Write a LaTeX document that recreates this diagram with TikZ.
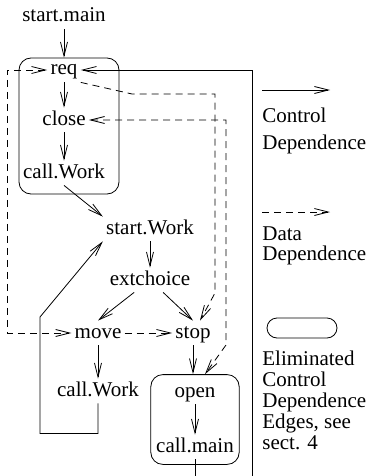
\documentclass[tikz,border=0pt]{standalone}
\usepackage{fontspec}
\setmainfont{Liberation Serif}
\usetikzlibrary{arrows.meta,fit}

\begin{document}
\begin{tikzpicture}[x=1pt,y=-1pt,line width=0.8pt,
  >={Straight Barb[length=14pt,width=7pt]},
  every node/.style={font=\fontsize{21}{21}\selectfont, inner sep=3pt},
  lbl/.style={text height=14pt, text depth=4pt},
  data/.style={dash pattern=on 7pt off 5pt},
  elim/.style={draw, rounded corners=12pt},
  legend/.style={align=left, anchor=north west, inner sep=0pt}]
  \useasboundingbox (0,0) rectangle (366,476);
  \def\lx{262}

  \node[lbl] (smain)  at (64,17)   {start.main};
  \node[lbl] (req)    at (64,70)   {req};
  \node[lbl] (close)  at (64,120)  {close};
  \node[lbl] (cwork)  at (64,173)  {call.Work};
  \node[lbl] (swork)  at (150,229) {start.Work};
  \node[lbl] (ext)    at (150,280) {extchoice};
  \node[lbl] (move)   at (98,333)  {move};
  \node[lbl] (stop)   at (193,333) {stop};
  \node[lbl] (cwork2) at (98,391)  {call.Work};
  \node[lbl] (open)   at (195,392) {open};
  \node[lbl] (cmain)  at (195,447) {call.main};

  % eliminated edges
  \draw[elim] (19,58) rectangle (119,194);
  \node[elim, fit=(open)(cmain), inner xsep=2pt, inner ysep=5pt] (obox) {};

  \draw[->] (smain) -- (req);
  \draw[->] (req) -- (close);
  \draw[->] (close) -- (cwork);
  \draw[->] (cwork.south) -- (swork.north west);
  \draw[->] (swork) -- (ext);
  \draw[->] (ext) -- (move.north);
  \draw[->] (ext) -- (stop.north);
  \draw[->] (move) -- (cwork2);
  \draw[->] (open) -- (cmain);
  \draw[->] (stop) -- (stop |- obox.north);

  % back edges
  \draw[->] (cwork2.south) -- ++(0,30) -| (40,317) -- (swork.south west);
  \draw[->] (cmain.south) -- ++(0,40) -| (252,70) -- (req);

  % data
  \draw[data, <->] (req) -- (7,70) -- (7,333) -- (move);
  \draw[data, ->] (move) -- (stop);
  \draw[data, ->] (req.south east) -- (132,94) -- (215,94) -- (215,293)
    -- ([xshift=7pt]stop.north);
  \draw[data, <->] (close) -- (226,120) -- (226,345)
    -- ([xshift=10pt]obox.north);

  % legend
  \coordinate (lctrl) at (\lx,90);
  \coordinate (ldata) at (\lx,212);
  \draw[->] (lctrl) -- ++(68,0);
  \draw[data, ->] (ldata) -- ++(68,0);
  \node[legend] (lctrlt) at (\lx,108) {Control\\[6pt]Dependence};
  \node[legend] (ldatat) at (\lx,226) {Data\\[-1pt]Dependence};
  \draw[elim, rounded corners=10pt] (267,318) rectangle (337,338);
  \node[legend] (lelimt) at (\lx,351) {Eliminated\\Control\\Dependence\\Edges, see\\sect. 4};
\end{tikzpicture}
\end{document}
